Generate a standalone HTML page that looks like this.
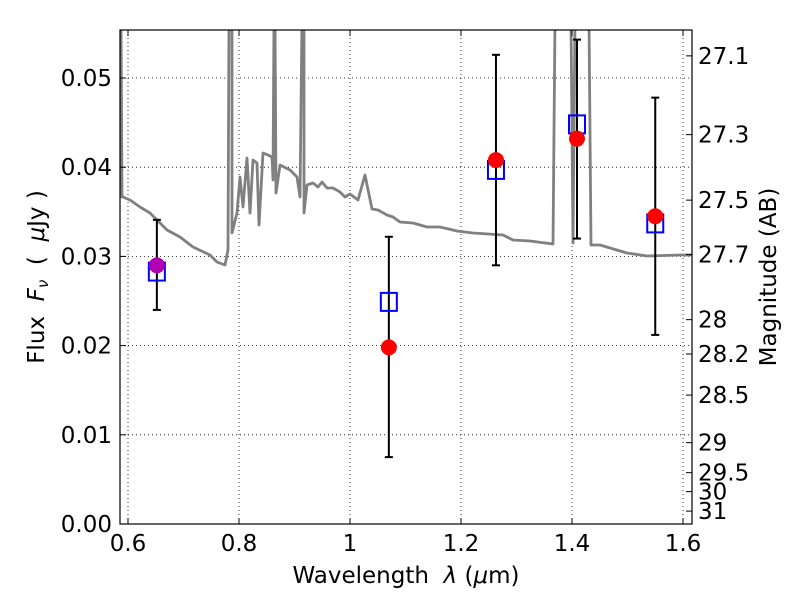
<!DOCTYPE html>
<html><head><meta charset="utf-8"><style>
body{margin:0;background:#fff}
text{font-family:"DejaVu Sans","Liberation Sans",sans-serif}
</style></head><body>
<svg id="chart" width="800" height="600" xmlns="http://www.w3.org/2000/svg">
<defs><clipPath id="clip"><rect x="120" y="30" width="572" height="494"/></clipPath></defs>
<rect width="800" height="600" fill="#fff"/>
<g id="grid"></g>
<g id="spec" clip-path="url(#clip)"></g>
<g id="marks"></g>
<rect x="120" y="30" width="572" height="494" fill="none" stroke="#000" stroke-width="1.2"/>
<g id="axes"></g>
<text x="406" y="583" font-size="23" text-anchor="middle">Wavelength&#160; <tspan font-style="italic">λ</tspan> (<tspan font-style="italic">μ</tspan>m)</text>
<text transform="translate(44,277) rotate(-90)" font-size="23" text-anchor="middle">Flux&#160; <tspan font-style="italic">F<tspan font-size="15" dy="4">ν</tspan></tspan><tspan dy="-4">&#160; (&#160; </tspan><tspan font-style="italic">μ</tspan>Jy )</text>
<text transform="translate(776,277) rotate(-90)" font-size="23" text-anchor="middle">Magnitude (AB)</text>
</svg>
<script>
const xTicks=[0.6,0.8,1.0,1.2,1.4,1.6];
const xTickLabels=["0.6","0.8","1","1.2","1.4","1.6"];
const yTicks=[0,0.01,0.02,0.03,0.04,0.05];
const yTickLabels=["0.00","0.01","0.02","0.03","0.04","0.05"];
const magTicks=[27.1,27.3,27.5,27.7,28,28.2,28.5,29,29.5,30,31];
const magLabels=["27.1","27.3","27.5","27.7","28","28.2","28.5","29","29.5","30","31"];
const ptWave=[0.652,1.070,1.263,1.409,1.550];
const obsFlux=[0.0290,0.0198,0.0408,0.0432,0.0345];
const errHi=[0.0341,0.0322,0.0526,0.0543,0.0478];
const errLo=[0.0240,0.0075,0.0290,0.0320,0.0212];
const modelFlux=[0.0283,0.0249,0.0397,0.0448,0.0337];
const specPx=[[121,20],[122,197],[123,197],[130,200],[140,207],[150,213],[167,230],[180,237],[193,247],[210,255],[217,262],[225,265],[228,250],[229,20],[232,20],[232,233],[237,213],[240,177],[243,207],[247,158],[250,213],[253,160],[257,163],[259,225],[263,153],[268,155],[272,157],[273,180],[274,20],[275,20],[276,193],[280,165],[290,170],[297,177],[300,197],[302,20],[304,20],[304,213],[307,185],[313,183],[318,187],[322,182],[327,188],[333,188],[340,192],[345,197],[350,194],[358,200],[365,175],[372,209],[378,210],[387,215],[393,217],[400,222],[413,223],[427,227],[440,227],[457,231],[473,233],[503,235],[513,240],[530,241],[553,244],[555,20],[571,20],[573,243],[575,20],[589,20],[591,245],[600,245],[610,248],[627,253],[647,256],[680,255],[692,255]];
const specWave=specPx.map(p=>+(0.6+(p[0]-128)/555).toFixed(4));
const specFlux=specPx.map(p=>+((524-p[1])/8920).toFixed(5));
const X=w=>128+(w-0.6)*555, Y=f=>524-f*8920;
const NS="http://www.w3.org/2000/svg";
function mk(par,tag,at){const e=document.createElementNS(NS,tag);for(const k in at)e.setAttribute(k,at[k]);document.getElementById(par).appendChild(e);return e;}
xTicks.forEach((t,i)=>{const x=X(t);
 let g=mk('grid','line',{x1:x,x2:x,y1:30,y2:524,stroke:'#000','stroke-width':0.8,'stroke-dasharray':'1,3'});
 
 mk('axes','line',{x1:x,x2:x,y1:524,y2:518,stroke:'#000'});mk('axes','line',{x1:x,x2:x,y1:30,y2:36,stroke:'#000'});
 let l=mk('axes','text',{x:x,y:551,'font-size':23,'text-anchor':'middle'});l.textContent=xTickLabels[i];
 });
yTicks.forEach((t,i)=>{const y=Y(t);
 let g=mk('grid','line',{x1:120,x2:692,y1:y,y2:y,stroke:'#000','stroke-width':0.8,'stroke-dasharray':'1,3'});
 
 mk('axes','line',{x1:120,x2:126,y1:y,y2:y,stroke:'#000'});
 let l=mk('axes','text',{x:112,y:y+8,'font-size':23,'text-anchor':'end'});l.textContent=yTickLabels[i];
 });
magTicks.forEach((m,i)=>{const y=Y(Math.pow(10,(23.9-m)/2.5));
 mk('axes','line',{x1:686,x2:692,y1:y,y2:y,stroke:'#000'});
 let l=mk('axes','text',{x:698,y:y+8,'font-size':23});l.textContent=magLabels[i];
 });
let d=specWave.map((w,i)=>(i?'L':'M')+X(w).toFixed(1)+','+Y(specFlux[i]).toFixed(1)).join('');
let sp=mk('spec','path',{d:d,fill:'none',stroke:'#808080','stroke-width':2.8,'stroke-linejoin':'round'});

ptWave.forEach((w,i)=>{const x=X(w);
 let e=mk('marks','line',{x1:x,x2:x,y1:Y(errHi[i]),y2:Y(errLo[i]),stroke:'#000','stroke-width':2});
 
 mk('marks','line',{x1:x-4,x2:x+4,y1:Y(errHi[i]),y2:Y(errHi[i]),stroke:'#000','stroke-width':2});
 mk('marks','line',{x1:x-4,x2:x+4,y1:Y(errLo[i]),y2:Y(errLo[i]),stroke:'#000','stroke-width':2});
 let s=mk('marks','rect',{x:x-8,y:Y(modelFlux[i])-9,width:16,height:18,fill:'none',stroke:'#0000ff','stroke-width':2});
 
 let c=mk('marks','circle',{cx:x,cy:Y(obsFlux[i]),r:8,fill:i==0?'#b000b0':'#ff0000'});
 });
</script>
</body></html>
